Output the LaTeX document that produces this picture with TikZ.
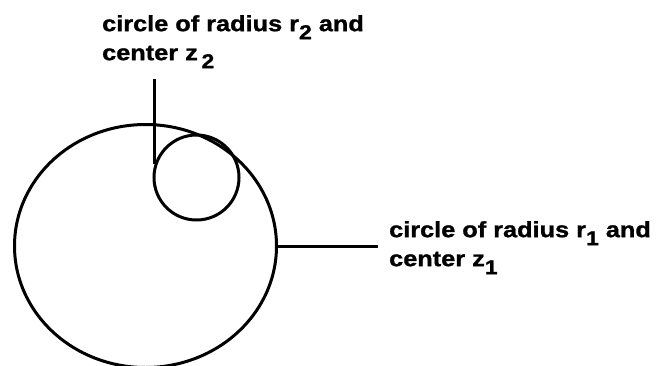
\documentclass[tikz,border=0pt]{standalone}
\usepackage{fontspec}
\newfontfamily\lblfont[FakeStretch=1.15, BoldFeatures={FakeBold=1.2}]{Liberation Sans}
\usetikzlibrary{shapes.geometric,positioning}
\newcommand{\lowidx}[1]{\raisebox{-8pt}{\fontsize{20}{20}\selectfont #1}}

\begin{document}
\begin{tikzpicture}[x=1pt, y=-1pt,
    rim/.style={draw, line width=3pt, inner sep=0pt},
    lbl/.style={font=\lblfont\fontsize{22}{29}\selectfont\bfseries, align=left, inner sep=0pt, anchor=north west},
    lead/.style={line width=3pt}]
  \fill[white] (0,0) rectangle (656,365);
  \useasboundingbox (0,0) rectangle (656,365);
  % the two circles
  \node[rim, ellipse, minimum width=262pt, minimum height=243pt] (bigc) at (145.5,246) {};
  \node[rim, circle, minimum size=85pt] (smallc) at (196.5,177.5) {};
  % labels
  \node[lbl] (lab2) at (102,15) {circle of radius r\lowidx{2} and\\center z\,\lowidx{2}};
  \node[lbl] (lab1) at (389,221) {circle of radius r\lowidx{1} and\\center z\lowidx{1}};
  % leaders
  \coordinate (topref) at (0,79);
  \coordinate (z2top) at (smallc.162 |- topref);
  \coordinate (z1end) at (378,246);
  \draw[lead] (z2top) -- (smallc.162);
  \draw[lead] (bigc.east) -- (z1end);
\end{tikzpicture}
\end{document}
